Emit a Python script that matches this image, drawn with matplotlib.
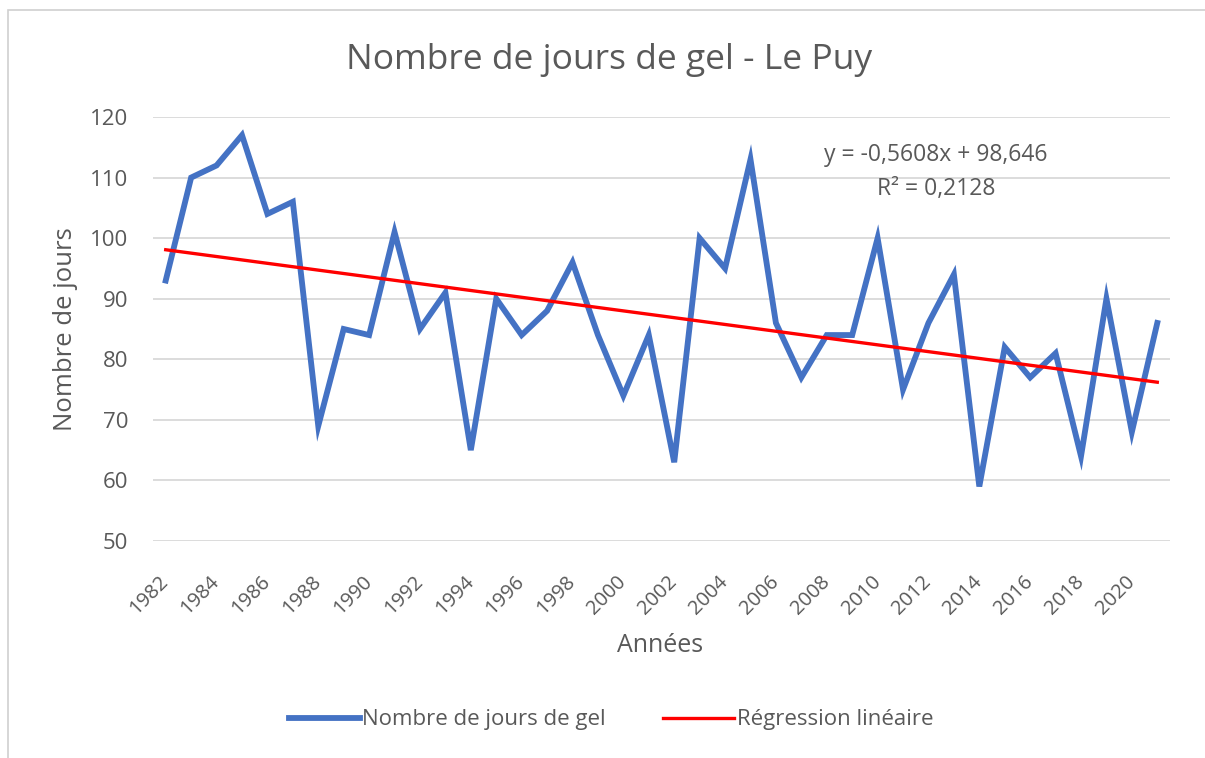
import numpy as np
import matplotlib.pyplot as plt
from matplotlib.patches import Rectangle

# Data
years = list(range(1982, 2022))
jours_gel = [93, 110, 112, 117, 104, 106, 69, 85, 84, 101,
             85, 91, 65, 90, 84, 88, 96, 84, 74, 84,
             63, 100, 95, 113, 86, 77, 84, 84, 100, 75,
             86, 94, 59, 82, 77, 81, 64, 90, 68, 86]
year_ticks = list(range(1982, 2021, 2))
y_ticks = [50, 60, 70, 80, 90, 100, 110, 120]
equation = "y = -0,5608x + 98,646"
r2_label = "R² = 0,2128"

plt.rcParams['font.family'] = ['Open Sans', 'DejaVu Sans']
txt = '#595959'

# Linear trend over index 1..n, like Excel does
idx = np.arange(1, len(years) + 1)
slope, intercept = np.polyfit(idx, jours_gel, 1)
trend = slope * idx + intercept

fig = plt.figure(figsize=(12.05, 7.58), dpi=100)
fig.patches.append(Rectangle((8 / 1205, -0.1), 1.2, (758 - 10) / 758 + 0.1,
                             transform=fig.transFigure, fill=False,
                             edgecolor='#d0d0d0', lw=1.2))
ax = fig.add_axes([153 / 1205, 217 / 758, 1017 / 1205, 424 / 758])

ax.plot(years, jours_gel, color='#4472C4', lw=4.2, solid_joinstyle='miter',
        label='Nombre de jours de gel', zorder=3)
ax.plot(years, trend, color='#FF0000', lw=2.4, label='Régression linéaire', zorder=4)

ax.set_xlim(1981.5, 2021.5)
ax.set_ylim(50, 120)
ax.set_yticks(y_ticks)
ax.set_xticks(year_ticks)
ax.set_xticklabels([str(y) for y in year_ticks], rotation=45, ha='right',
                   va='center', rotation_mode='anchor')
ax.tick_params(axis='y', length=0, labelsize=16, colors=txt, pad=18)
ax.tick_params(axis='x', length=0, labelsize=14.5, colors=txt, pad=27)
ax.grid(axis='y', color='#d9d9d9', lw=1.3)
ax.set_axisbelow(True)
for s in ax.spines.values():
    s.set_visible(False)

fig.text(609 / 1205, 1 - 60 / 758, 'Nombre de jours de gel - Le Puy',
         fontsize=25.5, color=txt, ha='center', va='center')
ax.set_xlabel('Années', fontsize=18, color=txt)
ax.set_ylabel('Nombre de jours', fontsize=18.5, color=txt)
ax.xaxis.set_label_coords((660 - 153) / 1017, -(645 - 541) / 424)
ax.xaxis.label.set_va('center')
ax.yaxis.set_label_coords((65 - 153) / 1017, 0.5)
ax.yaxis.label.set_va('center')

ax.text(2012.3, 113.7, equation, fontsize=16.5, color=txt, ha='center', va='center')
ax.text(2012.3, 108.1, r2_label, fontsize=16.5, color=txt, ha='center', va='center')

fig.legend(loc='center', bbox_to_anchor=(0.507, 38 / 758), ncol=2, frameon=False,
           fontsize=16, labelcolor=txt, handlelength=3.2, handletextpad=0.1,
           columnspacing=2.6)

fig.savefig('out.png', dpi=100, facecolor='white')
